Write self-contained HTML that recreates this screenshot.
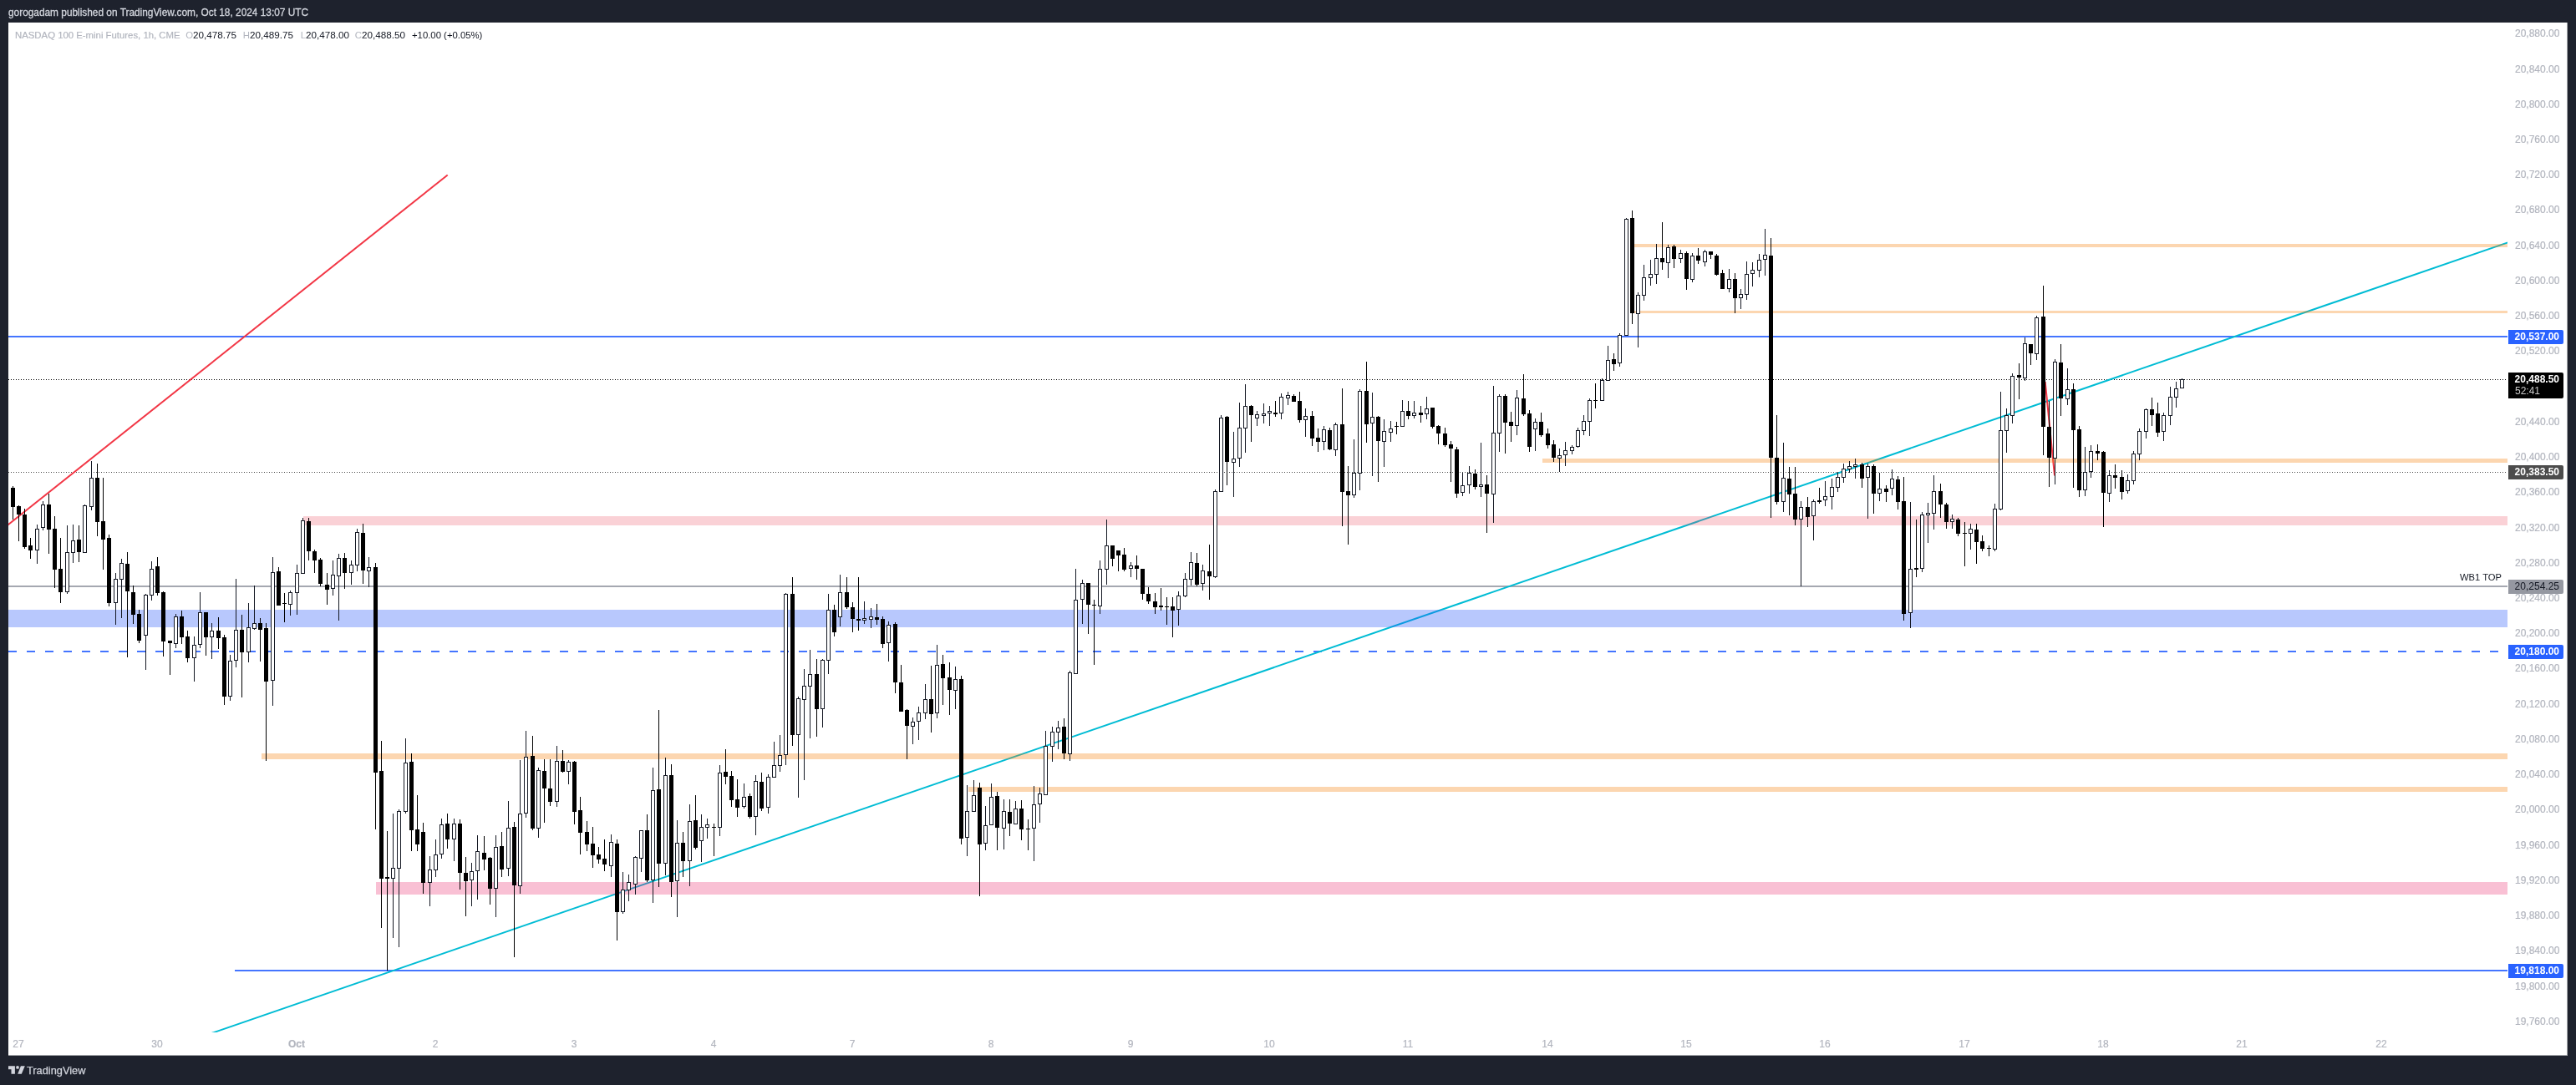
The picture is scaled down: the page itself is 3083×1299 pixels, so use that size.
<!DOCTYPE html><html><head><meta charset="utf-8"><title>chart</title><style>
html,body{margin:0;padding:0}
body{width:3083px;height:1299px;background:#1e222d;position:relative;overflow:hidden;font-family:"Liberation Sans",sans-serif;font-size:12px}
#chart{position:absolute;left:10px;top:27px;width:3062px;height:1236px;background:#fff;border-right:1px solid #a5a7ab;border-bottom:1px solid #a5a7ab}
.t{position:absolute;white-space:nowrap;line-height:14px;will-change:transform}
#hdr{left:10px;top:8px;color:#d1d4dc;font-size:11.87px;-webkit-text-stroke:0.3px #d1d4dc}
.pl{right:20px;color:#b2b5be;text-align:right;-webkit-text-stroke:0.2px #b2b5be}
.tl{color:#b2b5be;transform:translateX(-50%);-webkit-text-stroke:0.2px #b2b5be}
.box{will-change:transform;position:absolute;left:3002px;width:66px;height:17px;border-radius:0 2px 2px 0;color:#fff;font-weight:bold;line-height:17px}
.box span{position:absolute;right:5px}
svg{position:absolute;left:0;top:0}

</style></head><body>
<div class="t" id="hdr">gorogadam published on TradingView.com, Oct 18, 2024 13:07 UTC</div>
<div id="chart"></div>
<svg width="3083" height="1299" viewBox="0 0 3083 1299" shape-rendering="crispEdges">
<rect x="10" y="402" width="2991" height="2" fill="#4475ff"/>
<rect x="281" y="1161" width="2720" height="2" fill="#4475ff"/>
<rect x="10" y="701" width="2991" height="2" fill="#a5a8b1"/>
<line x1="10" y1="780" x2="2991" y2="780" stroke="#4475ff" stroke-width="2" stroke-dasharray="10 12"/>
<line x1="10" y1="454.5" x2="3001" y2="454.5" stroke="#000" stroke-width="1" stroke-dasharray="1 2"/>
<line x1="10" y1="565.5" x2="3001" y2="565.5" stroke="#484848" stroke-width="1" stroke-dasharray="1 2"/>
<clipPath id="cp"><rect x="10" y="27" width="2991" height="1209"/></clipPath><g clip-path="url(#cp)" shape-rendering="geometricPrecision">
<line x1="4" y1="632.78" x2="535.7" y2="209.5" stroke="#f23645" stroke-width="2"/>
<line x1="240" y1="1241.51" x2="3010" y2="287.43" stroke="#00bcd4" stroke-width="2"/>
<line x1="2447.7" y1="457" x2="2459" y2="569.5" stroke="#f23645" stroke-width="2"/>
</g>
<rect x="10" y="730" width="2991" height="21" fill="rgba(40,88,249,0.33)"/>
<rect x="363" y="618" width="2638" height="11" fill="rgba(234,63,84,0.24)"/>
<rect x="450" y="1056" width="2551" height="15" fill="rgba(233,30,99,0.28)"/>
<rect x="1955" y="292" width="1046" height="4" fill="rgba(245,124,0,0.31)"/>
<rect x="1955" y="372" width="1046" height="3" fill="rgba(245,124,0,0.31)"/>
<rect x="1846" y="549" width="1155" height="5" fill="rgba(245,124,0,0.31)"/>
<rect x="313" y="902" width="2688" height="7" fill="rgba(245,124,0,0.31)"/>
<rect x="1159" y="942" width="1842" height="6" fill="rgba(245,124,0,0.31)"/>
<path fill="#000" d="M15 582h1v40h-1zM22 605h1v43h-1zM29 609h1v48h-1zM36 644h1v25h-1zM58 591h1v72h-1zM65 618h1v86h-1zM72 644h1v78h-1zM94 629h1v44h-1zM116 555h1v87h-1zM123 572h1v110h-1zM130 640h1v86h-1zM152 661h1v126h-1zM159 701h1v46h-1zM166 730h1v40h-1zM188 667h1v46h-1zM195 708h1v78h-1zM203 767h1v41h-1zM217 731h1v40h-1zM224 755h1v38h-1zM246 733h1v52h-1zM261 739h1v38h-1zM268 760h1v84h-1zM289 736h1v99h-1zM311 740h1v52h-1zM318 746h1v165h-1zM333 679h1v46h-1zM340 710h1v35h-1zM369 620h1v51h-1zM376 658h1v28h-1zM383 668h1v34h-1zM391 686h1v38h-1zM412 662h1v43h-1zM434 627h1v72h-1zM449 674h1v319h-1zM456 887h1v224h-1zM463 995h1v167h-1zM492 902h1v117h-1zM499 952h1v67h-1zM506 985h1v85h-1zM535 974h1v42h-1zM550 981h1v84h-1zM557 1026h1v71h-1zM579 1001h1v41h-1zM586 1026h1v57h-1zM600 996h1v54h-1zM615 984h1v162h-1zM637 881h1v113h-1zM651 909h1v76h-1zM658 909h1v56h-1zM673 898h1v27h-1zM687 911h1v76h-1zM694 954h1v69h-1zM702 983h1v36h-1zM709 990h1v49h-1zM716 1014h1v20h-1zM723 1005h1v38h-1zM738 1005h1v121h-1zM774 975h1v81h-1zM788 850h1v212h-1zM803 915h1v159h-1zM817 996h1v54h-1zM832 952h1v65h-1zM854 986h1v39h-1zM868 897h1v42h-1zM875 923h1v43h-1zM882 933h1v45h-1zM897 950h1v30h-1zM911 925h1v46h-1zM948 691h1v202h-1zM977 789h1v93h-1zM998 724h1v38h-1zM1013 691h1v38h-1zM1020 721h1v36h-1zM1027 691h1v64h-1zM1049 723h1v25h-1zM1056 738h1v38h-1zM1071 745h1v85h-1zM1078 796h1v56h-1zM1085 849h1v60h-1zM1114 797h1v80h-1zM1128 784h1v60h-1zM1136 793h1v63h-1zM1150 809h1v202h-1zM1172 937h1v136h-1zM1193 948h1v70h-1zM1208 957h1v44h-1zM1222 958h1v48h-1zM1230 981h1v37h-1zM1273 860h1v49h-1zM1302 698h1v61h-1zM1309 718h1v78h-1zM1331 653h1v25h-1zM1338 659h1v25h-1zM1345 656h1v28h-1zM1360 665h1v29h-1zM1367 681h1v37h-1zM1374 703h1v20h-1zM1382 710h1v25h-1zM1389 704h1v27h-1zM1396 715h1v33h-1zM1403 715h1v48h-1zM1432 662h1v40h-1zM1447 652h1v66h-1zM1468 498h1v83h-1zM1497 485h1v44h-1zM1526 480h1v19h-1zM1548 472h1v9h-1zM1555 469h1v37h-1zM1570 492h1v42h-1zM1577 513h1v28h-1zM1591 512h1v27h-1zM1606 465h1v165h-1zM1613 558h1v94h-1zM1635 433h1v97h-1zM1649 498h1v79h-1zM1671 505h1v15h-1zM1685 480h1v22h-1zM1700 486h1v20h-1zM1714 488h1v25h-1zM1721 509h1v23h-1zM1729 512h1v23h-1zM1736 528h1v49h-1zM1743 535h1v61h-1zM1765 562h1v24h-1zM1779 569h1v69h-1zM1801 472h1v71h-1zM1808 493h1v36h-1zM1823 448h1v50h-1zM1830 491h1v50h-1zM1844 494h1v29h-1zM1852 513h1v24h-1zM1859 527h1v26h-1zM1909 459h1v30h-1zM1931 423h1v21h-1zM1953 252h1v136h-1zM1989 266h1v57h-1zM2003 293h1v28h-1zM2018 301h1v46h-1zM2032 297h1v19h-1zM2047 301h1v9h-1zM2054 304h1v26h-1zM2061 323h1v23h-1zM2076 327h1v48h-1zM2119 285h1v335h-1zM2126 497h1v107h-1zM2141 559h1v58h-1zM2148 559h1v70h-1zM2163 595h1v36h-1zM2177 584h1v19h-1zM2228 554h1v30h-1zM2242 556h1v59h-1zM2257 581h1v20h-1zM2271 570h1v40h-1zM2278 571h1v172h-1zM2293 622h1v69h-1zM2322 579h1v41h-1zM2329 602h1v31h-1zM2343 620h1v22h-1zM2351 625h1v53h-1zM2365 627h1v48h-1zM2372 641h1v19h-1zM2380 653h1v13h-1zM2416 435h1v43h-1zM2430 412h1v25h-1zM2445 342h1v203h-1zM2452 480h1v103h-1zM2466 412h1v86h-1zM2481 459h1v125h-1zM2488 510h1v85h-1zM2510 532h1v19h-1zM2517 540h1v91h-1zM2531 556h1v29h-1zM2539 563h1v35h-1zM2575 476h1v34h-1zM2582 482h1v41h-1zM13 584h5v23h-5zM20 606h5v10h-5zM27 616h5v39h-5zM34 653h5v6h-5zM56 604h5v30h-5zM63 633h5v49h-5zM70 681h5v28h-5zM92 646h5v15h-5zM114 572h5v53h-5zM121 624h5v22h-5zM128 644h5v78h-5zM150 675h5v33h-5zM157 709h5v27h-5zM164 735h5v32h-5zM186 678h5v32h-5zM193 709h5v59h-5zM201 767h5v3h-5zM215 738h5v25h-5zM222 762h5v26h-5zM244 733h5v30h-5zM259 755h5v9h-5zM266 763h5v71h-5zM287 754h5v27h-5zM309 746h5v8h-5zM316 752h5v64h-5zM331 684h5v41h-5zM338 722h5v1h-5zM367 624h5v36h-5zM374 660h5v11h-5zM381 670h5v29h-5zM389 700h5v6h-5zM410 668h5v18h-5zM432 638h5v45h-5zM447 679h5v246h-5zM454 923h5v129h-5zM461 1050h5v2h-5zM490 912h5v82h-5zM497 993h5v18h-5zM504 996h5v61h-5zM533 986h5v19h-5zM548 986h5v59h-5zM555 1045h5v10h-5zM577 1021h5v8h-5zM584 1027h5v37h-5zM598 1013h5v28h-5zM613 990h5v70h-5zM635 905h5v87h-5zM649 923h5v21h-5zM656 944h5v16h-5zM671 911h5v13h-5zM685 912h5v60h-5zM692 970h5v27h-5zM700 996h5v15h-5zM707 1010h5v14h-5zM714 1023h5v6h-5zM721 1028h5v7h-5zM736 1010h5v82h-5zM772 994h5v60h-5zM786 945h5v89h-5zM801 928h5v128h-5zM815 1009h5v22h-5zM830 982h5v33h-5zM852 990h5v1h-5zM866 924h5v6h-5zM873 929h5v29h-5zM880 957h5v10h-5zM895 953h5v25h-5zM909 936h5v32h-5zM946 711h5v169h-5zM975 807h5v42h-5zM996 730h5v27h-5zM1011 709h5v18h-5zM1018 727h5v14h-5zM1025 741h5v2h-5zM1047 739h5v3h-5zM1054 741h5v30h-5zM1069 747h5v70h-5zM1076 817h5v35h-5zM1083 850h5v19h-5zM1112 837h5v18h-5zM1126 795h5v17h-5zM1134 811h5v15h-5zM1148 813h5v191h-5zM1170 943h5v68h-5zM1191 953h5v38h-5zM1206 972h5v14h-5zM1220 968h5v25h-5zM1228 992h5v1h-5zM1271 870h5v32h-5zM1300 698h5v26h-5zM1307 724h5v1h-5zM1329 653h5v16h-5zM1336 659h5v6h-5zM1343 664h5v18h-5zM1358 677h5v4h-5zM1365 681h5v30h-5zM1372 711h5v9h-5zM1380 720h5v7h-5zM1387 725h5v2h-5zM1394 726h5v1h-5zM1401 726h5v5h-5zM1430 674h5v26h-5zM1445 684h5v6h-5zM1466 499h5v54h-5zM1495 486h5v11h-5zM1524 494h5v2h-5zM1546 474h5v7h-5zM1553 480h5v23h-5zM1568 498h5v27h-5zM1575 524h5v5h-5zM1589 515h5v23h-5zM1604 508h5v81h-5zM1611 588h5v5h-5zM1633 468h5v40h-5zM1647 499h5v29h-5zM1669 510h5v1h-5zM1683 492h5v6h-5zM1698 494h5v3h-5zM1712 488h5v23h-5zM1719 510h5v9h-5zM1727 519h5v14h-5zM1734 532h5v5h-5zM1741 538h5v53h-5zM1763 567h5v16h-5zM1777 580h5v11h-5zM1799 474h5v32h-5zM1806 505h5v5h-5zM1821 477h5v19h-5zM1828 495h5v40h-5zM1842 505h5v16h-5zM1850 519h5v14h-5zM1857 532h5v16h-5zM1907 479h5v1h-5zM1929 430h5v6h-5zM1951 261h5v114h-5zM1987 309h5v5h-5zM2001 295h5v15h-5zM2016 303h5v31h-5zM2030 306h5v6h-5zM2045 301h5v4h-5zM2052 306h5v23h-5zM2059 327h5v19h-5zM2074 334h5v23h-5zM2117 306h5v242h-5zM2124 548h5v53h-5zM2139 573h5v19h-5zM2146 591h5v31h-5zM2161 607h5v12h-5zM2175 599h5v2h-5zM2226 556h5v17h-5zM2240 558h5v33h-5zM2255 585h5v4h-5zM2269 574h5v27h-5zM2276 600h5v135h-5zM2291 680h5v2h-5zM2320 588h5v16h-5zM2327 604h5v21h-5zM2341 622h5v17h-5zM2349 638h5v1h-5zM2363 634h5v15h-5zM2370 648h5v9h-5zM2378 656h5v1h-5zM2414 449h5v3h-5zM2428 412h5v11h-5zM2443 379h5v132h-5zM2450 511h5v37h-5zM2464 434h5v43h-5zM2479 466h5v49h-5zM2486 514h5v73h-5zM2508 540h5v3h-5zM2515 541h5v49h-5zM2529 569h5v3h-5zM2537 571h5v18h-5zM2573 490h5v7h-5zM2580 495h5v23h-5z"/>
<path fill="#131722" d="M44 628h1v47h-1zM51 600h1v35h-1zM80 629h1v82h-1zM87 628h1v46h-1zM101 604h1v58h-1zM109 552h1v59h-1zM138 686h1v62h-1zM145 669h1v71h-1zM174 711h1v91h-1zM181 672h1v47h-1zM210 735h1v41h-1zM232 762h1v54h-1zM239 709h1v67h-1zM253 746h1v43h-1zM275 784h1v55h-1zM282 693h1v106h-1zM297 722h1v71h-1zM304 701h1v53h-1zM326 667h1v178h-1zM347 707h1v30h-1zM355 676h1v60h-1zM362 620h1v67h-1zM398 671h1v42h-1zM405 663h1v80h-1zM420 671h1v29h-1zM427 633h1v51h-1zM441 667h1v36h-1zM470 974h1v149h-1zM477 969h1v165h-1zM485 884h1v90h-1zM514 1025h1v60h-1zM521 1005h1v45h-1zM528 980h1v48h-1zM543 980h1v51h-1zM564 1033h1v52h-1zM571 1000h1v77h-1zM593 1000h1v98h-1zM608 959h1v90h-1zM622 910h1v160h-1zM629 875h1v104h-1zM644 919h1v84h-1zM666 893h1v73h-1zM680 910h1v29h-1zM731 999h1v51h-1zM745 1044h1v50h-1zM752 1047h1v32h-1zM760 1025h1v46h-1zM767 994h1v50h-1zM781 919h1v162h-1zM796 907h1v141h-1zM810 982h1v116h-1zM825 963h1v98h-1zM839 975h1v57h-1zM846 980h1v24h-1zM861 916h1v85h-1zM890 938h1v30h-1zM904 928h1v72h-1zM919 927h1v47h-1zM926 888h1v43h-1zM933 880h1v44h-1zM940 710h1v206h-1zM955 834h1v121h-1zM962 801h1v133h-1zM969 778h1v106h-1zM984 789h1v82h-1zM991 711h1v96h-1zM1005 688h1v62h-1zM1034 720h1v27h-1zM1042 728h1v24h-1zM1063 744h1v48h-1zM1092 859h1v32h-1zM1099 846h1v40h-1zM1107 819h1v42h-1zM1121 772h1v88h-1zM1143 798h1v51h-1zM1157 940h1v85h-1zM1165 934h1v38h-1zM1179 965h1v53h-1zM1186 938h1v50h-1zM1201 957h1v60h-1zM1215 959h1v28h-1zM1237 941h1v90h-1zM1244 943h1v42h-1zM1251 875h1v77h-1zM1259 870h1v42h-1zM1266 863h1v34h-1zM1280 803h1v108h-1zM1287 681h1v126h-1zM1295 694h1v53h-1zM1316 671h1v64h-1zM1324 622h1v78h-1zM1353 673h1v18h-1zM1410 708h1v41h-1zM1418 686h1v29h-1zM1425 661h1v40h-1zM1439 676h1v31h-1zM1454 586h1v106h-1zM1461 497h1v92h-1zM1476 517h1v78h-1zM1483 482h1v77h-1zM1490 460h1v82h-1zM1504 492h1v18h-1zM1512 483h1v24h-1zM1519 486h1v24h-1zM1533 471h1v31h-1zM1541 469h1v16h-1zM1562 489h1v34h-1zM1584 510h1v29h-1zM1598 506h1v40h-1zM1620 526h1v70h-1zM1627 466h1v121h-1zM1642 470h1v100h-1zM1656 502h1v57h-1zM1664 504h1v25h-1zM1678 479h1v32h-1zM1692 480h1v21h-1zM1707 475h1v27h-1zM1750 566h1v28h-1zM1758 558h1v33h-1zM1772 530h1v65h-1zM1787 462h1v164h-1zM1794 472h1v69h-1zM1815 467h1v54h-1zM1837 501h1v39h-1zM1866 537h1v28h-1zM1873 529h1v29h-1zM1881 533h1v11h-1zM1888 512h1v24h-1zM1895 497h1v24h-1zM1902 477h1v45h-1zM1917 453h1v27h-1zM1924 414h1v42h-1zM1938 399h1v40h-1zM1946 261h1v141h-1zM1960 350h1v66h-1zM1967 317h1v43h-1zM1975 311h1v31h-1zM1982 292h1v48h-1zM1996 293h1v40h-1zM2011 299h1v16h-1zM2025 303h1v35h-1zM2040 299h1v20h-1zM2069 322h1v28h-1zM2083 346h1v24h-1zM2090 313h1v46h-1zM2097 314h1v29h-1zM2105 304h1v28h-1zM2112 274h1v56h-1zM2134 530h1v83h-1zM2155 600h1v102h-1zM2170 598h1v49h-1zM2184 576h1v30h-1zM2192 573h1v37h-1zM2199 565h1v24h-1zM2206 555h1v23h-1zM2213 552h1v14h-1zM2220 549h1v24h-1zM2235 555h1v66h-1zM2249 566h1v34h-1zM2264 562h1v31h-1zM2286 601h1v151h-1zM2300 613h1v72h-1zM2307 602h1v48h-1zM2314 569h1v65h-1zM2336 616h1v17h-1zM2358 627h1v31h-1zM2387 603h1v57h-1zM2394 469h1v142h-1zM2401 489h1v53h-1zM2408 447h1v60h-1zM2423 404h1v52h-1zM2437 378h1v53h-1zM2459 430h1v150h-1zM2474 441h1v44h-1zM2495 535h1v59h-1zM2502 533h1v39h-1zM2524 563h1v38h-1zM2546 568h1v23h-1zM2553 540h1v40h-1zM2560 513h1v38h-1zM2568 489h1v36h-1zM2589 494h1v34h-1zM2597 463h1v46h-1zM2604 457h1v31h-1zM2611 453h1v12h-1zM42 633h5v26h-5zM49 604h5v28h-5zM78 661h5v48h-5zM85 647h5v15h-5zM99 605h5v57h-5zM107 572h5v35h-5zM136 693h5v29h-5zM143 674h5v20h-5zM172 712h5v49h-5zM179 681h5v32h-5zM208 738h5v33h-5zM230 772h5v16h-5zM237 733h5v39h-5zM251 755h5v8h-5zM273 791h5v43h-5zM280 754h5v37h-5zM295 751h5v30h-5zM302 746h5v7h-5zM324 685h5v130h-5zM345 709h5v15h-5zM353 686h5v24h-5zM360 623h5v64h-5zM396 688h5v17h-5zM403 668h5v22h-5zM418 676h5v10h-5zM425 637h5v40h-5zM439 679h5v5h-5zM468 1039h5v13h-5zM475 971h5v69h-5zM483 913h5v59h-5zM512 1041h5v16h-5zM519 1023h5v19h-5zM526 987h5v36h-5zM541 986h5v19h-5zM562 1043h5v11h-5zM569 1019h5v24h-5zM591 1014h5v50h-5zM606 991h5v49h-5zM620 974h5v87h-5zM627 906h5v68h-5zM642 922h5v70h-5zM664 911h5v49h-5zM678 912h5v12h-5zM729 1008h5v29h-5zM743 1065h5v27h-5zM750 1056h5v10h-5zM758 1026h5v33h-5zM765 994h5v34h-5zM779 946h5v108h-5zM794 928h5v106h-5zM808 1009h5v46h-5zM823 983h5v48h-5zM837 990h5v17h-5zM844 987h5v4h-5zM859 925h5v66h-5zM888 954h5v12h-5zM902 935h5v43h-5zM917 930h5v37h-5zM924 916h5v15h-5zM931 904h5v13h-5zM938 711h5v193h-5zM953 836h5v44h-5zM960 821h5v17h-5zM967 807h5v15h-5zM982 790h5v59h-5zM989 730h5v61h-5zM1003 709h5v30h-5zM1032 740h5v3h-5zM1040 738h5v4h-5zM1061 748h5v22h-5zM1090 864h5v6h-5zM1097 853h5v11h-5zM1105 837h5v17h-5zM1119 796h5v58h-5zM1141 813h5v14h-5zM1155 971h5v32h-5zM1163 952h5v20h-5zM1177 988h5v22h-5zM1184 954h5v34h-5zM1199 971h5v21h-5zM1213 968h5v19h-5zM1235 963h5v29h-5zM1242 950h5v13h-5zM1249 893h5v59h-5zM1257 876h5v18h-5zM1264 871h5v6h-5zM1278 805h5v98h-5zM1285 718h5v89h-5zM1293 698h5v20h-5zM1314 681h5v45h-5zM1322 653h5v29h-5zM1351 677h5v4h-5zM1408 713h5v17h-5zM1416 693h5v21h-5zM1423 673h5v21h-5zM1437 683h5v16h-5zM1452 588h5v103h-5zM1459 500h5v89h-5zM1474 549h5v5h-5zM1481 512h5v37h-5zM1488 486h5v27h-5zM1502 496h5v5h-5zM1510 495h5v3h-5zM1517 492h5v3h-5zM1531 475h5v20h-5zM1539 473h5v4h-5zM1560 498h5v5h-5zM1582 514h5v15h-5zM1596 508h5v31h-5zM1618 566h5v27h-5zM1625 468h5v99h-5zM1640 499h5v8h-5zM1654 516h5v13h-5zM1662 513h5v5h-5zM1676 492h5v19h-5zM1690 494h5v4h-5zM1705 489h5v7h-5zM1748 581h5v9h-5zM1756 566h5v15h-5zM1770 580h5v3h-5zM1785 518h5v74h-5zM1792 474h5v45h-5zM1813 476h5v34h-5zM1835 505h5v9h-5zM1864 545h5v4h-5zM1871 539h5v6h-5zM1879 535h5v5h-5zM1886 515h5v20h-5zM1893 504h5v12h-5zM1900 479h5v26h-5zM1915 455h5v25h-5zM1922 431h5v25h-5zM1936 401h5v34h-5zM1944 262h5v140h-5zM1958 353h5v23h-5zM1965 332h5v22h-5zM1973 328h5v5h-5zM1980 309h5v20h-5zM1994 296h5v19h-5zM2009 303h5v7h-5zM2023 306h5v29h-5zM2038 301h5v13h-5zM2067 334h5v12h-5zM2081 352h5v5h-5zM2088 328h5v25h-5zM2095 323h5v5h-5zM2103 311h5v13h-5zM2110 305h5v6h-5zM2132 572h5v29h-5zM2153 607h5v15h-5zM2168 600h5v18h-5zM2182 594h5v5h-5zM2190 583h5v12h-5zM2197 571h5v13h-5zM2204 561h5v11h-5zM2211 558h5v4h-5zM2218 556h5v3h-5zM2233 558h5v14h-5zM2247 585h5v6h-5zM2262 573h5v12h-5zM2284 681h5v53h-5zM2298 616h5v65h-5zM2305 614h5v3h-5zM2312 588h5v27h-5zM2334 621h5v4h-5zM2356 633h5v6h-5zM2385 609h5v49h-5zM2392 515h5v95h-5zM2399 497h5v19h-5zM2406 450h5v48h-5zM2421 411h5v42h-5zM2435 380h5v44h-5zM2457 433h5v116h-5zM2472 466h5v12h-5zM2493 565h5v22h-5zM2500 540h5v25h-5zM2522 569h5v22h-5zM2544 575h5v13h-5zM2551 543h5v33h-5zM2558 516h5v28h-5zM2566 490h5v27h-5zM2587 497h5v20h-5zM2595 475h5v23h-5zM2602 465h5v11h-5zM2609 454h5v11h-5z"/>
<path fill="#fff" d="M43 634h3v24h-3zM50 605h3v26h-3zM79 662h3v46h-3zM86 648h3v13h-3zM100 606h3v55h-3zM108 573h3v33h-3zM137 694h3v27h-3zM144 675h3v18h-3zM173 713h3v47h-3zM180 682h3v30h-3zM209 739h3v31h-3zM231 773h3v14h-3zM238 734h3v37h-3zM252 756h3v6h-3zM274 792h3v41h-3zM281 755h3v35h-3zM296 752h3v28h-3zM303 747h3v5h-3zM325 686h3v128h-3zM346 710h3v13h-3zM354 687h3v22h-3zM361 624h3v62h-3zM397 689h3v15h-3zM404 669h3v20h-3zM419 677h3v8h-3zM426 638h3v38h-3zM440 680h3v3h-3zM469 1040h3v11h-3zM476 972h3v67h-3zM484 914h3v57h-3zM513 1042h3v14h-3zM520 1024h3v17h-3zM527 988h3v34h-3zM542 987h3v17h-3zM563 1044h3v9h-3zM570 1020h3v22h-3zM592 1015h3v48h-3zM607 992h3v47h-3zM621 975h3v85h-3zM628 907h3v66h-3zM643 923h3v68h-3zM665 912h3v47h-3zM679 913h3v10h-3zM730 1009h3v27h-3zM744 1066h3v25h-3zM751 1057h3v8h-3zM759 1027h3v31h-3zM766 995h3v32h-3zM780 947h3v106h-3zM795 929h3v104h-3zM809 1010h3v44h-3zM824 984h3v46h-3zM838 991h3v15h-3zM845 988h3v2h-3zM860 926h3v64h-3zM889 955h3v10h-3zM903 936h3v41h-3zM918 931h3v35h-3zM925 917h3v13h-3zM932 905h3v11h-3zM939 712h3v191h-3zM954 837h3v42h-3zM961 822h3v15h-3zM968 808h3v13h-3zM983 791h3v57h-3zM990 731h3v59h-3zM1004 710h3v28h-3zM1033 741h3v1h-3zM1041 739h3v2h-3zM1062 749h3v20h-3zM1091 865h3v4h-3zM1098 854h3v9h-3zM1106 838h3v15h-3zM1120 797h3v56h-3zM1142 814h3v12h-3zM1156 972h3v30h-3zM1164 953h3v18h-3zM1178 989h3v20h-3zM1185 955h3v32h-3zM1200 972h3v19h-3zM1214 969h3v17h-3zM1236 964h3v27h-3zM1243 951h3v11h-3zM1250 894h3v57h-3zM1258 877h3v16h-3zM1265 872h3v4h-3zM1279 806h3v96h-3zM1286 719h3v87h-3zM1294 699h3v18h-3zM1315 682h3v43h-3zM1323 654h3v27h-3zM1352 678h3v2h-3zM1409 714h3v15h-3zM1417 694h3v19h-3zM1424 674h3v19h-3zM1438 684h3v14h-3zM1453 589h3v101h-3zM1460 501h3v87h-3zM1475 550h3v3h-3zM1482 513h3v35h-3zM1489 487h3v25h-3zM1503 497h3v3h-3zM1511 496h3v1h-3zM1518 493h3v1h-3zM1532 476h3v18h-3zM1540 474h3v2h-3zM1561 499h3v3h-3zM1583 515h3v13h-3zM1597 509h3v29h-3zM1619 567h3v25h-3zM1626 469h3v97h-3zM1641 500h3v6h-3zM1655 517h3v11h-3zM1663 514h3v3h-3zM1677 493h3v17h-3zM1691 495h3v2h-3zM1706 490h3v5h-3zM1749 582h3v7h-3zM1757 567h3v13h-3zM1771 581h3v1h-3zM1786 519h3v72h-3zM1793 475h3v43h-3zM1814 477h3v32h-3zM1836 506h3v7h-3zM1865 546h3v2h-3zM1872 540h3v4h-3zM1880 536h3v3h-3zM1887 516h3v18h-3zM1894 505h3v10h-3zM1901 480h3v24h-3zM1916 456h3v23h-3zM1923 432h3v23h-3zM1937 402h3v32h-3zM1945 263h3v138h-3zM1959 354h3v21h-3zM1966 333h3v20h-3zM1974 329h3v3h-3zM1981 310h3v18h-3zM1995 297h3v17h-3zM2010 304h3v5h-3zM2024 307h3v27h-3zM2039 302h3v11h-3zM2068 335h3v10h-3zM2082 353h3v3h-3zM2089 329h3v23h-3zM2096 324h3v3h-3zM2104 312h3v11h-3zM2111 306h3v4h-3zM2133 573h3v27h-3zM2154 608h3v13h-3zM2169 601h3v16h-3zM2183 595h3v3h-3zM2191 584h3v10h-3zM2198 572h3v11h-3zM2205 562h3v9h-3zM2212 559h3v2h-3zM2219 557h3v1h-3zM2234 559h3v12h-3zM2248 586h3v4h-3zM2263 574h3v10h-3zM2285 682h3v51h-3zM2299 617h3v63h-3zM2306 615h3v1h-3zM2313 589h3v25h-3zM2335 622h3v2h-3zM2357 634h3v4h-3zM2386 610h3v47h-3zM2393 516h3v93h-3zM2400 498h3v17h-3zM2407 451h3v46h-3zM2422 412h3v40h-3zM2436 381h3v42h-3zM2458 434h3v114h-3zM2473 467h3v10h-3zM2494 566h3v20h-3zM2501 541h3v23h-3zM2523 570h3v20h-3zM2545 576h3v11h-3zM2552 544h3v31h-3zM2559 517h3v26h-3zM2567 491h3v25h-3zM2588 498h3v18h-3zM2596 476h3v21h-3zM2603 466h3v9h-3zM2610 455h3v9h-3z"/>
</svg>
<div class="t" style="left:18px;top:35px;color:#b2b5be;font-size:11.37px;-webkit-text-stroke:0.2px #b2b5be" id="lg0">NASDAQ 100 E-mini Futures, 1h, CME</div>
<div class="t" style="left:211.1px;width:20px;text-align:right;top:35px;color:#b2b5be;font-size:11.4px">O</div>
<div class="t lv" style="left:231.4px;top:35px;color:#131722;font-size:11.7px">20,478.75</div>
<div class="t" style="left:278.7px;width:20px;text-align:right;top:35px;color:#b2b5be;font-size:11.4px">H</div>
<div class="t lv" style="left:299px;top:35px;color:#131722;font-size:11.7px">20,489.75</div>
<div class="t" style="left:345.5px;width:20px;text-align:right;top:35px;color:#b2b5be;font-size:11.4px">L</div>
<div class="t lv" style="left:365.8px;top:35px;color:#131722;font-size:11.7px">20,478.00</div>
<div class="t" style="left:412.9px;width:20px;text-align:right;top:35px;color:#b2b5be;font-size:11.4px">C</div>
<div class="t lv" style="left:433.2px;top:35px;color:#131722;font-size:11.7px">20,488.50</div>
<div class="t" id="lgc" style="left:493.2px;top:35px;color:#131722;font-size:11.33px">+10.00 (+0.05%)</div>
<div class="t pl" style="top:33px">20,880.00</div>
<div class="t pl" style="top:76px">20,840.00</div>
<div class="t pl" style="top:118px">20,800.00</div>
<div class="t pl" style="top:160px">20,760.00</div>
<div class="t pl" style="top:202px">20,720.00</div>
<div class="t pl" style="top:244px">20,680.00</div>
<div class="t pl" style="top:287px">20,640.00</div>
<div class="t pl" style="top:329px">20,600.00</div>
<div class="t pl" style="top:371px">20,560.00</div>
<div class="t pl" style="top:413px">20,520.00</div>
<div class="t pl" style="top:456px">20,480.00</div>
<div class="t pl" style="top:498px">20,440.00</div>
<div class="t pl" style="top:540px">20,400.00</div>
<div class="t pl" style="top:582px">20,360.00</div>
<div class="t pl" style="top:625px">20,320.00</div>
<div class="t pl" style="top:667px">20,280.00</div>
<div class="t pl" style="top:709px">20,240.00</div>
<div class="t pl" style="top:751px">20,200.00</div>
<div class="t pl" style="top:793px">20,160.00</div>
<div class="t pl" style="top:836px">20,120.00</div>
<div class="t pl" style="top:878px">20,080.00</div>
<div class="t pl" style="top:920px">20,040.00</div>
<div class="t pl" style="top:962px">20,000.00</div>
<div class="t pl" style="top:1005px">19,960.00</div>
<div class="t pl" style="top:1047px">19,920.00</div>
<div class="t pl" style="top:1089px">19,880.00</div>
<div class="t pl" style="top:1131px">19,840.00</div>
<div class="t pl" style="top:1174px">19,800.00</div>
<div class="t pl" style="top:1216px">19,760.00</div>
<div class="box" style="top:395px;background:#2962ff;color:#fff;height:17px"><span>20,537.00</span></div>
<div class="box" style="top:772px;background:#2962ff;color:#fff;height:17px"><span>20,180.00</span></div>
<div class="box" style="top:1154px;background:#2962ff;color:#fff;height:17px"><span>19,818.00</span></div>
<div class="box" style="top:694px;background:#9598a1;color:#131722;font-weight:normal;height:17px"><span>20,254.25</span></div>
<div class="box" style="top:557px;background:#4c4c4c;color:#fff;height:17px"><span>20,383.50</span></div>
<div class="box" style="top:446px;background:#000;height:31px"><span style="top:0">20,488.50</span><span style="top:14px;right:auto;left:8px;color:#c9c9c9;font-weight:normal">52:41</span></div>
<div class="t" id="wb" style="left:2943.6px;top:684px;color:#131722;font-size:11.2px">WB1 TOP</div>
<div class="t tl" style="left:21.7px;top:1243px">27</div>
<div class="t tl" style="left:187.7px;top:1243px">30</div>
<div class="t tl" style="left:354.7px;top:1243px;font-weight:bold">Oct</div>
<div class="t tl" style="left:520.7px;top:1243px">2</div>
<div class="t tl" style="left:686.7px;top:1243px">3</div>
<div class="t tl" style="left:853.7px;top:1243px">4</div>
<div class="t tl" style="left:1019.7px;top:1243px">7</div>
<div class="t tl" style="left:1185.7px;top:1243px">8</div>
<div class="t tl" style="left:1352.7px;top:1243px">9</div>
<div class="t tl" style="left:1518.7px;top:1243px">10</div>
<div class="t tl" style="left:1684.7px;top:1243px">11</div>
<div class="t tl" style="left:1851.7px;top:1243px">14</div>
<div class="t tl" style="left:2017.7px;top:1243px">15</div>
<div class="t tl" style="left:2183.7px;top:1243px">16</div>
<div class="t tl" style="left:2350.7px;top:1243px">17</div>
<div class="t tl" style="left:2516.7px;top:1243px">18</div>
<div class="t tl" style="left:2682.7px;top:1243px">21</div>
<div class="t tl" style="left:2849.7px;top:1243px">22</div>
<svg width="40" height="20" viewBox="0 1270 40 20" style="left:0;top:1270px"><path fill="#d1d4dc" d="M10 1276.2h7.9v9.6h-4.4v-5.6h-3.5zM24.9 1276.2h4.9l-4 9.6h-4.6z"/><circle cx="21" cy="1277.9" r="1.9" fill="#d1d4dc"/></svg>
<div class="t" id="tv" style="left:32.4px;top:1274px;color:#d1d4dc;font-size:12.8px;line-height:15px;-webkit-text-stroke:0.25px #d1d4dc">TradingView</div>
</body></html>
